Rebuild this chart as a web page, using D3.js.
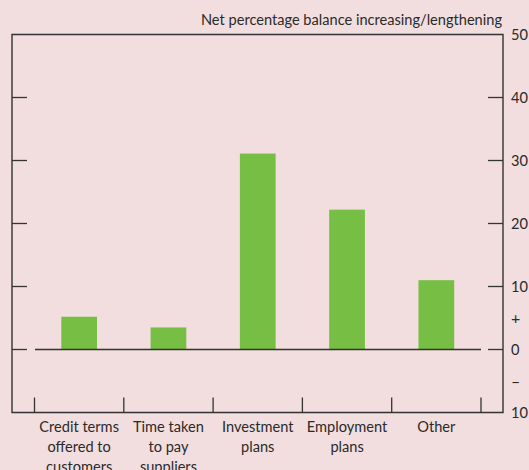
<!DOCTYPE html>
<html>
<head>
<meta charset="utf-8">
<script src="https://cdnjs.cloudflare.com/ajax/libs/d3/7.8.5/d3.min.js"></script>
<style>
  body { margin: 0; background: #f2dede; }
  svg { display: block; }
  text { font-family: Lato, "Noto Sans", sans-serif; font-size: 14.6px; fill: #2a2a2a; }
</style>
</head>
<body>
<div id="chart"></div>
<script>
// 数据
const categories = [
    ['Credit terms', 'offered to', 'customers'],
    ['Time taken', 'to pay', 'suppliers'],
    ['Investment', 'plans'],
    ['Employment', 'plans'],
    ['Other']
];
const values = [5.2, 3.5, 31.1, 22.2, 11.0];
const yTicks = [50, 40, 30, 20, 10, 0, -10];
const title = 'Net percentage balance increasing/lengthening';

const width = 529, height = 470;
const box = { left: 12, right: 503, top: 34.5, bottom: 412.5 };

const svg = d3.select('#chart').append('svg').attr('width', width).attr('height', height);

// 比例尺
const x = d3.scaleBand().domain(d3.range(categories.length))
    .range([34.5, 481]).paddingInner(0.6).paddingOuter(0.3);
const y = d3.scaleLinear().domain([-10, 50]).range([box.bottom, box.top]);

// 柱子
svg.append('g').selectAll('rect').data(values).enter().append('rect')
    .attr('x', (d, i) => x(i))
    .attr('width', x.bandwidth())
    .attr('y', d => y(Math.max(0, d)))
    .attr('height', d => Math.abs(y(d) - y(0)))
    .attr('fill', '#76bf44');

// 零线
svg.append('line').attr('x1', 35).attr('x2', 481)
    .attr('y1', y(0)).attr('y2', y(0))
    .attr('stroke', '#333').attr('stroke-width', 1.3);

// 边框
svg.append('path')
    .attr('d', `M${box.left},${box.top}H${box.right}V${box.bottom}H${box.left}Z`)
    .attr('fill', 'none').attr('stroke', '#333').attr('stroke-width', 1.4);

// 左右刻度
const tickG = svg.append('g').attr('stroke', '#333').attr('stroke-width', 1.3);
yTicks.filter(t => t !== 50 && t !== -10).forEach(t => {
    tickG.append('line').attr('x1', box.left).attr('x2', box.left + 15).attr('y1', y(t)).attr('y2', y(t));
    tickG.append('line').attr('x1', box.right - 15).attr('x2', box.right).attr('y1', y(t)).attr('y2', y(t));
});

// 底部刻度：类别分隔
const step = x.step();
const firstEdge = x(0) + x.bandwidth() / 2 - step / 2;
d3.range(categories.length + 1).forEach(i => {
    const xx = firstEdge + i * step;
    tickG.append('line').attr('x1', xx).attr('x2', xx).attr('y1', box.bottom - 15).attr('y2', box.bottom);
});

// 右侧刻度标签
svg.append('g').selectAll('text').data(yTicks).enter().append('text')
    .attr('x', 511).attr('y', d => y(d))
    .attr('dy', '0.35em')
    .text(d => Math.abs(d));
svg.append('text').attr('x', 511).attr('y', y(5)).attr('dy', '0.35em').style('font-size', '16px').text('+');
svg.append('text').attr('x', 511).attr('y', y(-5)).attr('dy', '0.35em').style('font-size', '16px').text('\u2013');

// 标题
svg.append('text').attr('x', 502).attr('y', 25).attr('text-anchor', 'end').text(title);

// 类别标签
const labels = svg.append('g').selectAll('text').data(categories).enter().append('text')
    .attr('text-anchor', 'middle')
    .attr('x', (d, i) => x(i) + x.bandwidth() / 2)
    .attr('y', 432);
labels.selectAll('tspan').data(d => d).enter().append('tspan')
    .attr('x', function () { return d3.select(this.parentNode).attr('x'); })
    .attr('dy', (d, i) => i === 0 ? 0 : 20)
    .text(d => d);
</script>
</body>
</html>
